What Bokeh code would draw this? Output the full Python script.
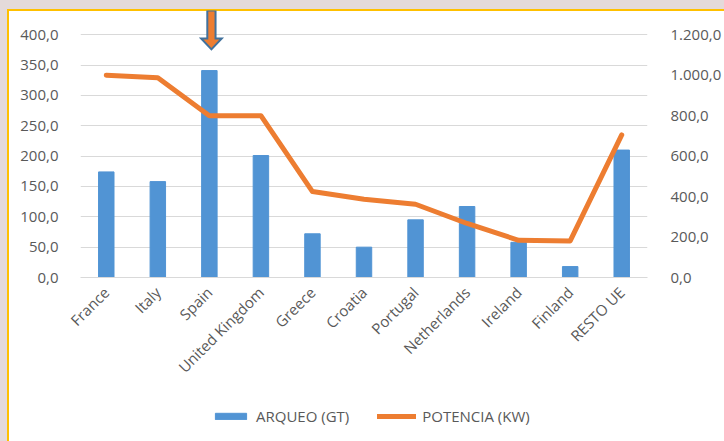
from bokeh.plotting import figure
from bokeh.layouts import column
from bokeh.models import Range1d, LinearAxis, FixedTicker, Legend, LegendItem
from bokeh.embed import file_html
from bokeh.resources import INLINE

# ---- data ----
categories = ["France", "Italy", "Spain", "United Kingdom", "Greece", "Croatia",
              "Portugal", "Netherlands", "Ireland", "Finland", "RESTO UE"]
arqueo_gt = [174, 158, 341, 201, 72, 50, 95, 117, 58, 18, 210]
potencia_kw = [1000, 987, 800, 800, 425, 387, 362, 267, 184, 181, 705]

left_ticks = [0, 50, 100, 150, 200, 250, 300, 350, 400]
left_labels = ["0,0", "50,0", "100,0", "150,0", "200,0", "250,0", "300,0", "350,0", "400,0"]
right_ticks = [0, 200, 400, 600, 800, 1000, 1200]
right_labels = ["0,0", "200,0", "400,0", "600,0", "800,0", "1.000,0", "1.200,0"]
series_names = ["ARQUEO (GT)", "POTENCIA (KW)"]

highlight = "Spain"
arrow_tip_value = 376

FONT = "Open Sans"
TXT = "#595959"
GRID = "#D9D9D9"
BLUE = "#5194D4"
ORANGE = "#ED7D31"
NAN = float("nan")

p = figure(x_range=categories, width=724, height=386, output_backend="svg",
           toolbar_location=None, min_border_left=80, min_border_right=76,
           min_border_top=10, min_border_bottom=104)
p.y_range = Range1d(0, 440)
p.extra_y_ranges = {"kw": Range1d(0, 1320)}
p.border_fill_color = None
p.background_fill_color = None
p.outline_line_color = None

bars = p.vbar(x=categories, top=arqueo_gt, width=0.3, color=BLUE)
line = p.line(x=categories, y=potencia_kw, y_range_name="kw", line_width=5,
              color=ORANGE, line_join="round", line_cap="round")

# arrow pointing at highlighted category (categorical offsets)
c, sw, hw = 0.04, 0.08, 0.2
top, base = 440, 394
offs = [c - sw, c + sw, c + sw, c + hw, c, c - hw, c - sw]
ax = [(highlight, o) for o in offs]
ay = [top, top, base, base, arrow_tip_value, base, base]
p.patch(x=ax, y=ay, fill_color=ORANGE, line_color="#41719C",
        line_width=2, line_join="miter")

# axes
p.yaxis.ticker = FixedTicker(ticks=left_ticks)
p.yaxis.major_label_overrides = dict(zip(left_ticks, left_labels))
right = LinearAxis(y_range_name="kw", ticker=FixedTicker(ticks=right_ticks))
right.major_label_overrides = dict(zip(right_ticks, right_labels))
p.add_layout(right, "right")

for a in [p.yaxis[0], right]:
    a.axis_line_color = None
    a.major_tick_line_color = None
    a.minor_tick_line_color = None
    a.major_label_text_font = FONT
    a.major_label_text_font_size = "15px"
    a.major_label_text_color = TXT
p.yaxis[0].major_label_standoff = 16
right.major_label_standoff = 17

xa = p.xaxis[0]
xa.axis_line_color = GRID
xa.major_tick_line_color = None
xa.major_label_orientation = 0.785398
xa.major_label_text_font = FONT
xa.major_label_text_font_size = "15px"
xa.major_label_text_color = TXT
xa.major_label_standoff = 6

p.xgrid.grid_line_color = None
p.ygrid.ticker = FixedTicker(ticks=left_ticks)
p.ygrid.grid_line_color = GRID

# ---- legend strip (separate figure below the chart) ----
lg = figure(width=724, height=55, output_backend="svg", toolbar_location=None,
            x_axis_type=None, y_axis_type=None, min_border=0,
            x_range=Range1d(0, 1), y_range=Range1d(0, 1))
lg.border_fill_color = None
lg.background_fill_color = None
lg.outline_line_color = None
lg.grid.grid_line_color = None
# swatch-only renderers (NaN values: nothing drawn in the strip itself)
lb = lg.vbar(x=[0.5], top=[NAN], width=0.3, color=BLUE)
ll = lg.line(x=[0.5, 0.5], y=[NAN, NAN], line_width=5, color=ORANGE, line_cap="round")
legend = Legend(items=[LegendItem(label=series_names[0], renderers=[lb]),
                       LegendItem(label=series_names[1], renderers=[ll])],
                orientation="horizontal", location=(131, 15),
                padding=0, margin=0, spacing=28, glyph_width=39, glyph_height=8,
                label_standoff=6, label_text_font=FONT, label_text_font_size="15px",
                label_text_color=TXT, background_fill_alpha=0, border_line_color=None)
lg.add_layout(legend)

layout = column(p, lg, spacing=0)

html = file_html(layout, INLINE)
bg = ("background:"
      "linear-gradient(#FFC000,#FFC000) 7px 9px/2px 100% no-repeat,"
      "linear-gradient(#FFC000,#FFC000) 7px 9px/100% 2px no-repeat,"
      "linear-gradient(#e4dada,#e4dada) 0 0/100% 9px no-repeat,"
      "linear-gradient(#e4dada,#e4dada) 0 0/7px 100% no-repeat,"
      "#ffffff;")
head_end = html.find("</head>")
k = html.find("<body", head_end)
if k >= 0:
    html = html[:k] + '<body style="%s"' % bg + html[k + 5:]
open("out.html", "w").write(html)
